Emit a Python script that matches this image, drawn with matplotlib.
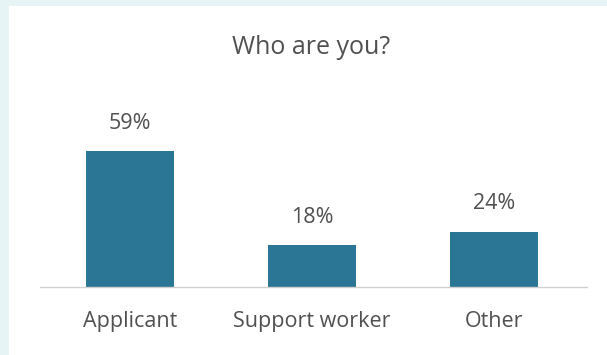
import matplotlib
matplotlib.use("Agg")
import matplotlib.pyplot as plt
from matplotlib.patches import Rectangle

categories = ["Applicant", "Support worker", "Other"]
shares = [59, 18, 24]

bar_color = "#2b7595"
text_color = "#505050"

plt.rcParams["font.family"] = ["Open Sans", "DejaVu Sans"]

fig = plt.figure(figsize=(6.07, 3.55), dpi=100)
fig.patch.set_facecolor("#e6f4f5")
# white card behind the chart
card = Rectangle((9 / 607, 0), 1, 349 / 355, transform=fig.transFigure,
                 facecolor="white", edgecolor="none", zorder=-10)
fig.add_artist(card)

ax = fig.add_axes([40 / 607, 68 / 355, 547 / 607, 187 / 355])
ax.set_facecolor("none")
x = range(len(categories))
bars = ax.bar(x, shares, width=0.48, color=bar_color, zorder=2)
for rect, v in zip(bars, shares):
    ax.annotate(f"{v}%", (rect.get_x() + rect.get_width() / 2, v),
                xytext=(0, 20), textcoords="offset points",
                ha="center", va="center", fontsize=15.5, color=text_color)

ax.set_xlim(-0.495, 2.51)
ax.set_ylim(0, 81)
ax.set_xticks(list(x))
ax.set_xticklabels(categories, fontsize=15.5, color=text_color)
ax.tick_params(axis="x", length=0, pad=17.5)
ax.set_yticks([])
for s in ["top", "right", "left"]:
    ax.spines[s].set_visible(False)
ax.spines["bottom"].set_color("#d0d0d0")
ax.spines["bottom"].set_linewidth(1)

fig.text(311 / 607, 1 - 47.5 / 355, "Who are you?", ha="center", va="center",
         fontsize=18, color=text_color)

fig.savefig("out.png", dpi=100)
